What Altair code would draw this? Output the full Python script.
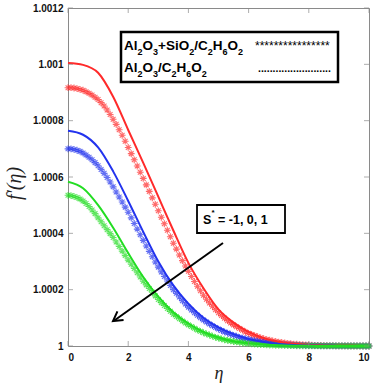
import altair as alt
import pandas as pd

# ---------------- data (f'(eta) - 1, in units of 1e-4) ----------------
ETA_LINE = [0.0, 0.5, 1.0, 1.5, 2.0, 2.5, 3.0, 3.5, 4.0, 4.5, 5.0,
            5.5, 6.0, 6.5, 7.0, 7.5, 8.0, 8.5, 9.0, 9.5, 10.0]
RED_LINE = [10.05, 9.98, 9.7, 8.85, 7.67, 6.5, 5.3, 4.1, 2.95, 2.05, 1.3,
            0.83, 0.5, 0.28, 0.15, 0.08, 0.04, 0.02, 0.01, 0.005, 0.0]
BLUE_LINE = [7.64, 7.5, 7.05, 6.2, 5.15, 4.05, 3.0, 2.15, 1.5, 1.0, 0.66,
             0.42, 0.25, 0.14, 0.07, 0.035, 0.017, 0.008, 0.004, 0.002, 0.0]
GREEN_LINE = [5.83, 5.6, 5.0, 4.2, 3.3, 2.45, 1.75, 1.2, 0.8, 0.5, 0.3,
              0.17, 0.1, 0.05, 0.025, 0.012, 0.006, 0.003, 0.001, 0.0, 0.0]

ETA_STAR = [round(0.1 * i, 1) for i in range(101)]
RED_STAR = [9.17, 9.17, 9.16, 9.14, 9.11, 9.08, 9.03, 8.97, 8.91, 8.83,
            8.75, 8.64, 8.52, 8.38, 8.22, 8.05, 7.87, 7.68, 7.48, 7.27,
            7.05, 6.83, 6.61, 6.39, 6.17, 5.95, 5.72, 5.49, 5.26, 5.03,
            4.80, 4.57, 4.34, 4.11, 3.88, 3.65, 3.44, 3.23, 3.03, 2.84,
            2.65, 2.47, 2.29, 2.12, 1.96, 1.80, 1.66, 1.53, 1.41, 1.29,
            1.18, 1.08, 0.99, 0.90, 0.82, 0.75, 0.68, 0.62, 0.56, 0.50,
            0.45, 0.41, 0.37, 0.33, 0.29, 0.26, 0.23, 0.21, 0.18, 0.16,
            0.14, 0.125, 0.11, 0.095, 0.08, 0.07, 0.062, 0.054, 0.047, 0.041,
            0.035, 0.03, 0.026, 0.022, 0.018, 0.015, 0.013, 0.011, 0.01, 0.008,
            0.007, 0.006, 0.005, 0.004, 0.0035, 0.003, 0.002, 0.0015, 0.001, 0.0005,
            0.0]
BLUE_STAR = [7.00, 7.00, 6.98, 6.95, 6.91, 6.85, 6.78, 6.70, 6.61, 6.51,
             6.40, 6.27, 6.13, 5.98, 5.82, 5.65, 5.47, 5.29, 5.11, 4.93,
             4.75, 4.55, 4.35, 4.15, 3.95, 3.75, 3.55, 3.36, 3.17, 2.98,
             2.80, 2.63, 2.47, 2.31, 2.15, 2.00, 1.87, 1.74, 1.61, 1.49,
             1.38, 1.28, 1.18, 1.09, 1.00, 0.92, 0.85, 0.78, 0.72, 0.66,
             0.60, 0.55, 0.50, 0.46, 0.42, 0.38, 0.35, 0.31, 0.28, 0.255,
             0.23, 0.21, 0.19, 0.17, 0.15, 0.13, 0.115, 0.10, 0.088, 0.076,
             0.065, 0.057, 0.05, 0.043, 0.036, 0.03, 0.027, 0.024, 0.021, 0.018,
             0.015, 0.013, 0.011, 0.01, 0.008, 0.007, 0.006, 0.005, 0.0045, 0.0035,
             0.003, 0.0025, 0.002, 0.0015, 0.0012, 0.001, 0.0008, 0.0006, 0.0004, 0.0002,
             0.0]
GREEN_STAR = [5.35, 5.34, 5.31, 5.27, 5.22, 5.15, 5.06, 4.95, 4.83, 4.70,
              4.55, 4.41, 4.27, 4.13, 3.99, 3.85, 3.69, 3.53, 3.37, 3.21,
              3.05, 2.90, 2.75, 2.60, 2.45, 2.30, 2.17, 2.04, 1.91, 1.78,
              1.65, 1.54, 1.44, 1.33, 1.23, 1.13, 1.05, 0.97, 0.89, 0.82,
              0.75, 0.69, 0.63, 0.57, 0.52, 0.47, 0.43, 0.39, 0.35, 0.31,
              0.28, 0.25, 0.22, 0.20, 0.18, 0.16, 0.145, 0.13, 0.115, 0.10,
              0.09, 0.08, 0.07, 0.06, 0.052, 0.045, 0.04, 0.035, 0.03, 0.026,
              0.022, 0.019, 0.016, 0.014, 0.012, 0.01, 0.009, 0.008, 0.007, 0.006,
              0.005, 0.0045, 0.004, 0.003, 0.0025, 0.002, 0.0018, 0.0015, 0.0012, 0.001,
              0.001, 0.0008, 0.0006, 0.0004, 0.0002, 0.0, 0.0, 0.0, 0.0, 0.0,
              0.0]

X_TICKS = [0, 2, 4, 6, 8, 10]
Y_TICKS = [1.0, 1.0002, 1.0004, 1.0006, 1.0008, 1.001, 1.0012]
# legend labels as (text, is_subscript) pieces
LEGEND_1 = [("Al", 0), ("2", 1), ("O", 0), ("3", 1), ("+SiO", 0), ("2", 1),
            ("/C", 0), ("2", 1), ("H", 0), ("6", 1), ("O", 0), ("2", 1)]
LEGEND_2 = [("Al", 0), ("2", 1), ("O", 0), ("3", 1), ("/C", 0), ("2", 1),
            ("H", 0), ("6", 1), ("O", 0), ("2", 1)]
LEGEND_STARS = "****************"
LEGEND_DOTS = "." * 25
ANNOT_S = "S"
ANNOT_SUP = "*"
ANNOT_REST = "= -1, 0, 1"

# ---------------- tables ----------------
SCALE = 1e-4
line_rows = []
for name, vals in [("red", RED_LINE), ("blue", BLUE_LINE), ("green", GREEN_LINE)]:
    for e, v in zip(ETA_LINE, vals):
        line_rows.append({"eta": e, "f": 1 + v * SCALE, "s": name})
lines_df = pd.DataFrame(line_rows)

star_rows = []
for name, vals in [("red", RED_STAR), ("blue", BLUE_STAR), ("green", GREEN_STAR)]:
    for e, v in zip(ETA_STAR, vals):
        star_rows.append({"eta": e, "f": 1 + v * SCALE, "s": name})
stars_df = pd.DataFrame(star_rows)

W, H = 301, 338
GRAY = "#8a8a8a"
FONT = "Liberation Sans"

xs = alt.Scale(domain=[0, 10], nice=False)
ys = alt.Scale(domain=[1.0, 1.0012], nice=False, zero=False)

x_enc = alt.X("eta:Q", scale=xs, title="\u03b7",
              axis=alt.Axis(values=X_TICKS, ticks=False, domain=False, grid=False,
                            labelFont=FONT, labelFontWeight="bold",
                            labelFontSize=10, labelColor="#111", labelPadding=6,
                            titleFont="Liberation Serif", titleFontStyle="italic",
                            titleFontWeight="normal", titleFontSize=18,
                            titleColor="#222", titlePadding=2))
y_enc = alt.Y("f:Q", scale=ys, title="f\u2032(\u03b7)",
              axis=alt.Axis(values=Y_TICKS, format="~g", ticks=False, domain=False,
                            grid=False, labelFont=FONT,
                            labelFontWeight="bold", labelFontSize=10,
                            labelColor="#111", labelPadding=5,
                            titleFont="Liberation Serif", titleFontStyle="italic",
                            titleFontWeight="normal", titleFontSize=20,
                            titleColor="#222", titleX=-44, titleY=175,
                            titleAngle=-90))

line_colors = alt.Scale(domain=["red", "blue", "green"],
                        range=["#ff0000", "#0010d0", "#00e000"])
star_colors = alt.Scale(domain=["red", "blue", "green"],
                        range=["#ff2a2a", "#2233ee", "#22dd22"])

ASTER = "M-1,0L1,0M0,-1L0,1M-0.7,-0.7L0.7,0.7M-0.7,0.7L0.7,-0.7"

stars = alt.Chart(stars_df).mark_point(
    shape=ASTER, filled=False, size=46, strokeWidth=1.1, opacity=0.7
).encode(x=x_enc, y=y_enc,
         color=alt.Color("s:N", scale=star_colors, legend=None),
         detail="s:N")

lines = alt.Chart(lines_df).mark_line(
    strokeWidth=2, interpolate="monotone"
).encode(x="eta:Q", y="f:Q",
         color=alt.Color("s:N", scale=line_colors, legend=None),
         detail="s:N")

# inward ticks on all four sides
xt = pd.DataFrame({"eta": X_TICKS})
yt = pd.DataFrame({"f": Y_TICKS})
tick_b = alt.Chart(xt).mark_tick(orient="vertical", size=5, thickness=1, color=GRAY).encode(
    x="eta:Q", y=alt.value(H - 2.5))
tick_t = alt.Chart(xt).mark_tick(orient="vertical", size=5, thickness=1, color=GRAY).encode(
    x="eta:Q", y=alt.value(2.5))
tick_l = alt.Chart(yt).mark_tick(orient="horizontal", size=5, thickness=1, color=GRAY).encode(
    y="f:Q", x=alt.value(2.5))
tick_r = alt.Chart(yt).mark_tick(orient="horizontal", size=5, thickness=1, color=GRAY).encode(
    y="f:Q", x=alt.value(W - 2.5))

one = pd.DataFrame({"k": [0]})
base = alt.Chart(one)

# approximate advance widths (em) of Liberation Sans Bold, for placing subscripts
ADV = {"A": 0.722, "l": 0.278, "O": 0.778, "+": 0.584, "S": 0.667, "i": 0.278,
       "/": 0.278, "C": 0.722, "H": 0.722, "2": 0.556, "3": 0.556, "6": 0.556}


def rich_text(pieces, x0, y, size, sub_size, sub_dy):
    out = []
    x = x0
    for txt, sub in pieces:
        fs = sub_size if sub else size
        out.append(base.mark_text(align="left", baseline="alphabetic", font=FONT,
                                  fontWeight="bold", fontSize=fs, color="black",
                                  text=txt).encode(x=alt.value(x),
                                                   y=alt.value(y + (sub_dy if sub else 0))))
        x += sum(ADV[c] for c in txt) * fs
    return out


# legend box
leg_box = base.mark_rect(fill="white", stroke="black", strokeWidth=2.5).encode(
    x=alt.value(53), x2=alt.value(270), y=alt.value(24), y2=alt.value(74))
leg_t1 = rich_text(LEGEND_1, 56, 42, 13.5, 9, 4.5)
leg_t2 = rich_text(LEGEND_2, 56, 64, 13.5, 9, 4.5)
leg_s = base.mark_text(align="left", baseline="middle", font=FONT,
                       fontSize=12, color="black",
                       text=LEGEND_STARS).encode(x=alt.value(187), y=alt.value(38))
leg_d = base.mark_text(align="left", baseline="alphabetic", font=FONT,
                       fontWeight="bold", fontSize=10.5, color="black",
                       text=LEGEND_DOTS).encode(x=alt.value(190), y=alt.value(64))

# annotation box and arrow
ann_box = base.mark_rect(fill="white", stroke="black", strokeWidth=1.8).encode(
    x=alt.value(129), x2=alt.value(217), y=alt.value(197), y2=alt.value(225))
ann_s = base.mark_text(align="left", baseline="middle", font=FONT,
                       fontWeight="bold", fontSize=12.5, color="black",
                       text=ANNOT_S).encode(x=alt.value(135), y=alt.value(212))
ann_sup = base.mark_text(align="left", baseline="middle", font=FONT,
                         fontWeight="bold", fontSize=8, color="black",
                         text=ANNOT_SUP).encode(x=alt.value(143.5), y=alt.value(205))
ann_rest = base.mark_text(align="left", baseline="middle", font=FONT,
                          fontWeight="bold", fontSize=12.5, color="black",
                          text=ANNOT_REST).encode(x=alt.value(150), y=alt.value(212))
arrow_line = base.mark_rule(color="black", strokeWidth=2).encode(
    x=alt.value(155), y=alt.value(235), x2=alt.value(47), y2=alt.value(312))
arrow_head = base.mark_point(shape="M-0.75,1.3L0,0L0.75,1.3", filled=False,
                             color="black", strokeWidth=2, size=200, angle=234.6,
                             opacity=1).encode(x=alt.value(45), y=alt.value(313))

chart = alt.layer(
    stars, lines, tick_b, tick_t, tick_l, tick_r,
    arrow_line, arrow_head, leg_box, *leg_t1, *leg_t2, leg_s, leg_d,
    ann_box, ann_s, ann_sup, ann_rest
).properties(
    width=W, height=H,
    autosize=alt.AutoSizeParams(type="none"),
    padding={"left": 68, "top": 8, "right": 8, "bottom": 44},
    background="white",
).configure_view(stroke=GRAY, strokeWidth=1)

chart.save("out.html", embed_options={"renderer": "svg", "actions": False})
